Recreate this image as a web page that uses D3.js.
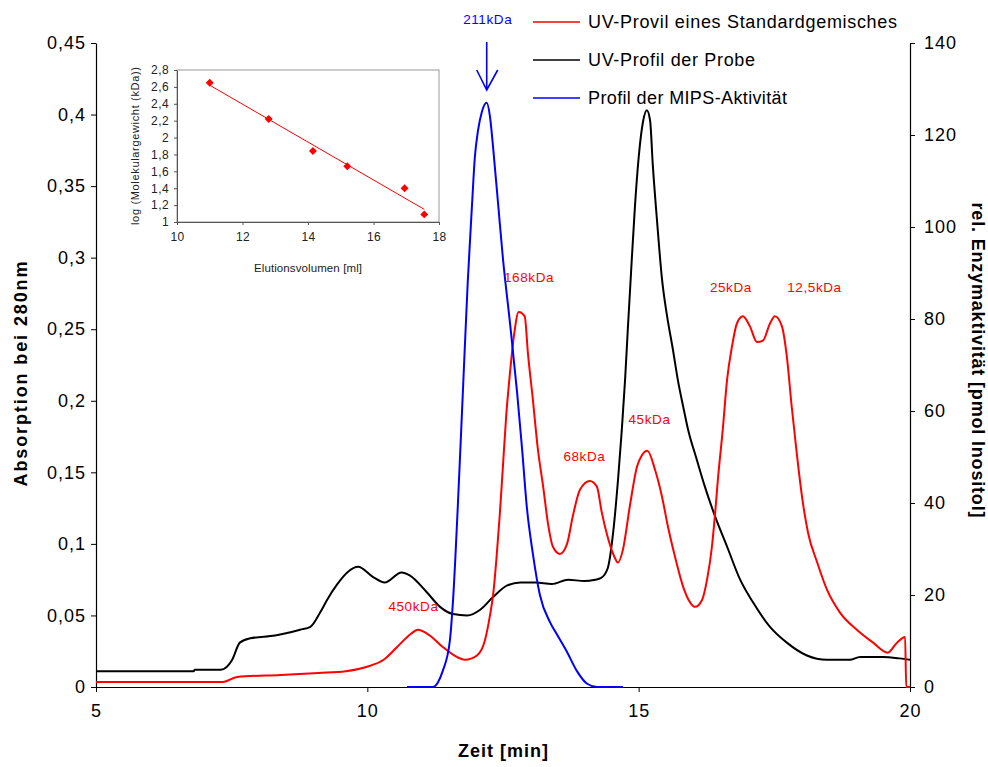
<!DOCTYPE html>
<html>
<head>
<meta charset="utf-8">
<script src="https://cdn.jsdelivr.net/npm/d3@7"></script>
<style>
  html, body { margin: 0; padding: 0; background: #fff; }
  svg { display: block; font-family: "Liberation Sans", Arial, sans-serif; }
</style>
</head>
<body>
<svg id="chart" width="988" height="767"></svg>
<script>
// Elution time [min] vs. absorbance at 280 nm — standard mixture
const standardTime = [5.0, 7.34, 7.6, 8.4, 9.1, 9.6, 9.98, 10.3, 10.55, 10.8, 10.93, 11.15, 11.39, 11.65, 11.8, 12.02, 12.17, 12.26, 12.32, 12.38, 12.44, 12.5, 12.56, 12.63, 12.7, 12.79, 12.9, 12.96, 13.05, 13.14, 13.24, 13.33, 13.42, 13.55, 13.68, 13.79, 13.92, 14.1, 14.23, 14.32, 14.42, 14.53, 14.62, 14.71, 14.84, 14.97, 15.06, 15.16, 15.3, 15.43, 15.54, 15.67, 15.82, 15.95, 16.04, 16.17, 16.26, 16.35, 16.41, 16.46, 16.55, 16.63, 16.72, 16.81, 16.92, 17.05, 17.18, 17.29, 17.42, 17.51, 17.64, 17.73, 17.82, 17.92, 18.01, 18.12, 18.29, 18.47, 18.71, 19.02, 19.32, 19.59, 19.76, 19.91, 19.93, 20.0];
const standardAbs  = [0.0035, 0.0035, 0.007, 0.0084, 0.0098, 0.011, 0.014, 0.019, 0.028, 0.037, 0.040, 0.036, 0.028, 0.021, 0.019, 0.022, 0.033, 0.05, 0.065, 0.09, 0.12, 0.155, 0.19, 0.22, 0.245, 0.262, 0.259, 0.233, 0.201, 0.167, 0.14, 0.114, 0.098, 0.093, 0.10, 0.12, 0.138, 0.144, 0.14, 0.122, 0.106, 0.093, 0.087, 0.096, 0.127, 0.154, 0.162, 0.165, 0.152, 0.133, 0.112, 0.091, 0.070, 0.059, 0.056, 0.061, 0.075, 0.098, 0.122, 0.145, 0.18, 0.215, 0.238, 0.254, 0.259, 0.252, 0.241, 0.242, 0.254, 0.259, 0.252, 0.231, 0.196, 0.161, 0.133, 0.108, 0.087, 0.068, 0.052, 0.040, 0.031, 0.024, 0.031, 0.035, 0.0, 0.0];

// Elution time [min] vs. absorbance at 280 nm — sample
const sampleTime = [5.0, 6.8, 6.82, 7.3, 7.51, 7.65, 7.84, 8.3, 8.76, 8.95, 9.13, 9.26, 9.45, 9.63, 9.83, 10.1, 10.32, 10.63, 10.78, 11.1, 11.34, 11.58, 11.84, 12.08, 12.32, 12.58, 12.82, 13.1, 13.4, 13.7, 14.0, 14.2, 14.3, 14.43, 14.53, 14.62, 14.69, 14.75, 14.8, 14.86, 14.93, 15.0, 15.08, 15.15, 15.21, 15.26, 15.34, 15.43, 15.52, 15.63, 15.72, 15.82, 15.91, 16.07, 16.22, 16.41, 16.63, 16.87, 17.11, 17.42, 17.73, 18.1, 18.47, 18.89, 19.08, 19.5, 19.81, 20.0];
const sampleAbs  = [0.011, 0.011, 0.012, 0.012, 0.019, 0.031, 0.034, 0.036, 0.040, 0.042, 0.052, 0.061, 0.072, 0.080, 0.084, 0.077, 0.073, 0.080, 0.078, 0.066, 0.056, 0.051, 0.050, 0.054, 0.063, 0.071, 0.073, 0.073, 0.072, 0.075, 0.074, 0.075, 0.076, 0.083, 0.108, 0.145, 0.18, 0.215, 0.25, 0.29, 0.335, 0.37, 0.395, 0.403, 0.396, 0.365, 0.325, 0.285, 0.26, 0.236, 0.215, 0.196, 0.18, 0.159, 0.14, 0.119, 0.098, 0.075, 0.059, 0.042, 0.031, 0.022, 0.019, 0.019, 0.021, 0.021, 0.020, 0.019];

// Elution time [min] vs. MIPS activity [pmol inositol]
const activityTime = [10.73, 11.21, 11.3, 11.39, 11.52, 11.58, 11.67, 11.76, 11.85, 11.93, 11.98, 12.04, 12.11, 12.2, 12.26, 12.32, 12.41, 12.5, 12.63, 12.76, 12.85, 12.94, 13.05, 13.18, 13.37, 13.49, 13.68, 13.86, 14.05, 14.23, 14.71];
const activityVal  = [0, 0, 1, 3.5, 10, 19, 40, 64, 88, 105, 115, 121, 125, 127, 124, 117, 105, 93, 79, 64, 52, 39, 29, 20, 14, 11.5, 7.6, 3.5, 0.7, 0, 0];

// Calibration: elution volume [ml] vs. log molecular weight
const calVolume = [11.0, 12.8, 14.15, 15.2, 16.95, 17.55];
const calLogMW  = [2.65, 2.22, 1.84, 1.66, 1.40, 1.09];

// Tick values
const xTicks = [5, 10, 15, 20];
const yLeftTicks = [0, 0.05, 0.1, 0.15, 0.2, 0.25, 0.3, 0.35, 0.4, 0.45];
const yRightTicks = [0, 20, 40, 60, 80, 100, 120, 140];
const insetXTicks = [10, 12, 14, 16, 18];
const insetYTicks = [1, 1.2, 1.4, 1.6, 1.8, 2, 2.2, 2.4, 2.6, 2.8];

// Peak annotations (molecular weight markers)
const peakLabels = ["450kDa", "168kDa", "68kDa", "45kDa", "25kDa", "12,5kDa"];
const peakLabelTime = [10.85, 12.98, 14.0, 15.2, 16.7, 18.24];
const peakLabelAbs  = [0.053, 0.283, 0.158, 0.184, 0.276, 0.276];

const legendNames = ["UV-Provil eines Standardgemisches", "UV-Profil der Probe", "Profil der MIPS-Aktivität"];
const legendColors = ["#ff0000", "#000000", "#0000ff"];
const legendWidths = [309, 167, 199];

const fmt = v => String(+v.toFixed(2)).replace(".", ",");

const svg = d3.select("#chart");
const plot = { left: 96, right: 910, top: 43, bottom: 687 };

const x = d3.scaleLinear().domain([5, 20]).range([plot.left, plot.right]);
const yL = d3.scaleLinear().domain([0, 0.45]).range([plot.bottom, plot.top]);
const yR = d3.scaleLinear().domain([0, 140]).range([plot.bottom, plot.top]);

const tickFont = 18;

// Axes
const gx = svg.append("g").attr("transform", `translate(0,${plot.bottom})`)
  .call(d3.axisBottom(x).tickValues(xTicks).tickFormat(d => d).tickSize(5).tickSizeOuter(0));
const gyl = svg.append("g").attr("transform", `translate(${plot.left},0)`)
  .call(d3.axisLeft(yL).tickValues(yLeftTicks).tickFormat(fmt).tickSize(5).tickSizeOuter(0));
const gyr = svg.append("g").attr("transform", `translate(${plot.right},0)`)
  .call(d3.axisRight(yR).tickValues(yRightTicks).tickFormat(d => d).tickSize(5).tickSizeOuter(0));

[gx, gyl, gyr].forEach(g => {
  g.selectAll("path.domain").attr("stroke", "#000").attr("stroke-width", 1.2);
  g.selectAll(".tick line").attr("stroke", "#000");
  g.selectAll(".tick text").attr("font-size", tickFont).attr("letter-spacing", 1)
    .attr("font-family", "Liberation Sans, Arial, sans-serif").attr("fill", "#000");
});
gx.selectAll(".tick text").attr("dy", "1.2em");
gyl.selectAll(".tick text").attr("x", -10);
gyr.selectAll(".tick text").attr("x", 14);

// Axis titles
svg.append("text")
  .attr("transform", `translate(27,${(plot.top + plot.bottom) / 2 + 9}) rotate(-90)`)
  .attr("text-anchor", "middle").attr("font-weight", "bold").attr("font-size", 18)
  .attr("textLength", 225).attr("lengthAdjust", "spacing")
  .text("Absorption bei 280nm");
svg.append("text")
  .attr("transform", `translate(972,360) rotate(90)`)
  .attr("text-anchor", "middle").attr("font-weight", "bold").attr("font-size", 18)
  .attr("textLength", 315).attr("lengthAdjust", "spacing")
  .text("rel. Enzymaktivität [pmol Inositol]");
svg.append("text")
  .attr("x", 503).attr("y", 757)
  .attr("text-anchor", "middle").attr("font-weight", "bold").attr("font-size", 18)
  .attr("textLength", 90).attr("lengthAdjust", "spacing")
  .text("Zeit [min]");

// Curves
const lineL = d3.line().x(d => x(d[0])).y(d => yL(d[1])).curve(d3.curveMonotoneX);
const lineR = d3.line().x(d => x(d[0])).y(d => yR(d[1])).curve(d3.curveMonotoneX);

svg.append("path").datum(d3.zip(sampleTime, sampleAbs))
  .attr("d", lineL).attr("fill", "none").attr("stroke", "#000").attr("stroke-width", 2);
svg.append("path").datum(d3.zip(standardTime, standardAbs))
  .attr("d", lineL).attr("fill", "none").attr("stroke", "#ff0000").attr("stroke-width", 2);
svg.append("path").datum(d3.zip(activityTime, activityVal))
  .attr("d", lineR).attr("fill", "none").attr("stroke", "#0000ff").attr("stroke-width", 2);

// Peak labels
svg.append("g").selectAll("text").data(peakLabels).join("text")
  .attr("x", (d, i) => x(peakLabelTime[i]))
  .attr("y", (d, i) => yL(peakLabelAbs[i]))
  .attr("text-anchor", "middle").attr("font-size", 13.5).attr("letter-spacing", 0.6)
  .attr("fill", "#ff0000")
  .text(d => d);

// 211 kDa marker arrow above the activity maximum
const peakIdx = d3.maxIndex(activityVal);
const ax = x(activityTime[peakIdx]);
svg.append("text").attr("x", ax + 1).attr("y", 24)
  .attr("text-anchor", "middle").attr("font-size", 13.5).attr("letter-spacing", 0.6)
  .attr("fill", "#0000ff")
  .text("211kDa");
svg.append("path")
  .attr("d", `M${ax},42 L${ax},90 M${ax - 10},70 L${ax},90 L${ax + 11},70`)
  .attr("fill", "none").attr("stroke", "#0000ff").attr("stroke-width", 1.6);

// Legend
const lg = svg.append("g");
legendNames.forEach((name, i) => {
  const yy = 22 + i * 38;
  lg.append("line").attr("x1", 533).attr("x2", 580).attr("y1", yy).attr("y2", yy)
    .attr("stroke", legendColors[i]).attr("stroke-width", 1.6);
  lg.append("text").attr("x", 588).attr("y", yy + 6).attr("font-size", 18)
    .attr("textLength", legendWidths[i]).attr("lengthAdjust", "spacing")
    .text(name);
});

// Inset: calibration curve
const ix = d3.scaleLinear().domain([10, 18]).range([177, 439]);
const iy = d3.scaleLinear().domain([1, 2.8]).range([222, 70]);
const inset = svg.append("g");

inset.append("rect").attr("x", 177).attr("y", 70).attr("width", 262).attr("height", 152)
  .attr("fill", "none").attr("stroke", "#999").attr("stroke-width", 1);

const igx = inset.append("g").attr("transform", "translate(0,222)")
  .call(d3.axisBottom(ix).tickValues(insetXTicks).tickFormat(d => d).tickSize(3).tickSizeOuter(0));
const igy = inset.append("g").attr("transform", "translate(177,0)")
  .call(d3.axisLeft(iy).tickValues(insetYTicks).tickFormat(fmt).tickSize(3).tickSizeOuter(0));
[igx, igy].forEach(g => {
  g.selectAll("path.domain").attr("stroke", "#555");
  g.selectAll(".tick line").attr("stroke", "#555");
  g.selectAll(".tick text").attr("font-size", 12).attr("letter-spacing", 0.4)
    .attr("font-family", "Liberation Sans, Arial, sans-serif").attr("fill", "#222");
});
igx.selectAll(".tick text").attr("dy", "1.1em");
igy.selectAll(".tick text").attr("x", -8);

inset.append("text")
  .attr("transform", "translate(139,146) rotate(-90)")
  .attr("text-anchor", "middle").attr("font-size", 11).attr("fill", "#222")
  .attr("textLength", 158).attr("lengthAdjust", "spacing")
  .text("log (Molekulargewicht (kDa))");
inset.append("text")
  .attr("x", 308).attr("y", 272)
  .attr("text-anchor", "middle").attr("font-size", 11.5).attr("fill", "#222")
  .attr("textLength", 108).attr("lengthAdjust", "spacing")
  .text("Elutionsvolumen [ml]");

// Least-squares trend line through the calibration points
const mx = d3.mean(calVolume), my = d3.mean(calLogMW);
const slope = d3.sum(calVolume, (v, i) => (v - mx) * (calLogMW[i] - my)) / d3.sum(calVolume, v => (v - mx) ** 2);
const icpt = my - slope * mx;
const vMin = d3.min(calVolume), vMax = d3.max(calVolume);
inset.append("line")
  .attr("x1", ix(vMin)).attr("y1", iy(icpt + slope * vMin))
  .attr("x2", ix(vMax)).attr("y2", iy(icpt + slope * vMax))
  .attr("stroke", "#ff0000").attr("stroke-width", 1);

inset.append("g").selectAll("path").data(d3.zip(calVolume, calLogMW)).join("path")
  .attr("d", d3.symbol(d3.symbolDiamond2, 40))
  .attr("transform", d => `translate(${ix(d[0])},${iy(d[1])})`)
  .attr("fill", "#ff0000");
</script>
</body>
</html>
